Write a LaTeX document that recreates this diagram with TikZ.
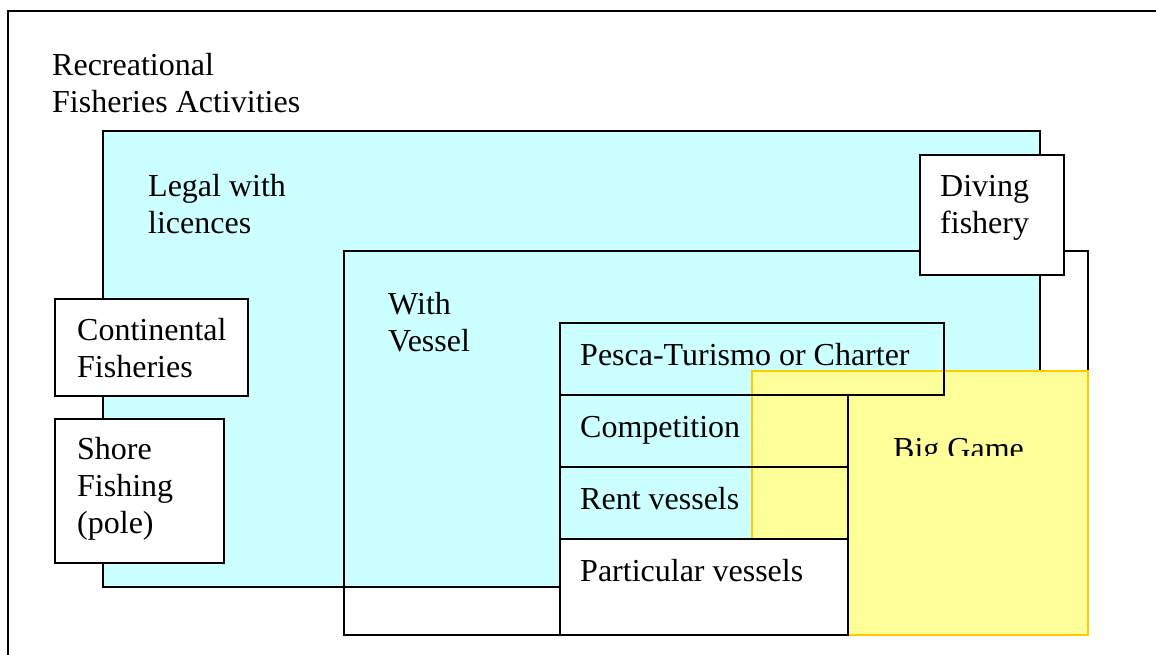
\documentclass[tikz,border=0pt]{standalone}
\usepackage{fontspec}
\setmainfont{Liberation Serif}
\definecolor{lightcyan}{HTML}{CCFFFF}
\definecolor{paleyellow}{HTML}{FFFF99}
\definecolor{gold}{HTML}{FFCC00}

\begin{document}
\begin{tikzpicture}[x=1pt, y=-1pt,
        R/.style 2 args = {rectangle, draw, line width=2pt,% region boxes, placed by their top left corner
                minimum width=#1, minimum height=#2,
                inner sep=0pt, outer sep=0pt, anchor=north west},
        T/.style = {anchor=base west, align=left, inner sep=0pt,% texts, placed by the baseline of their last line
                font=\fontsize{32}{36.8}\selectfont},
    ]
    \useasboundingbox (0,0) rectangle (1156,654);
    \draw[line width=2pt] (8,660) -- (8,11) -- (1160,11);
    \node[R={937pt}{456pt}, fill=lightcyan] (legal) at (103,131) {};
    \node[R={744pt}{384pt}] (vessel) at (344,251) {};
    \node[R={193pt}{97pt}, fill=white] (cont) at (55,299) {};
    \node[R={169pt}{144pt}, fill=white] (shore) at (55,419) {};
    \node[R={144pt}{120pt}, fill=white] (diving) at (920,155) {};
    \node[R={336pt}{264pt}, draw=gold, fill=paleyellow, line width=1.5pt] (big) at (752,371) {};
    \node[R={384pt}{72pt}] (pesca) at (560,323) {};
    \node[R={288pt}{72pt}] (comp) at (560,395) {};
    \node[R={288pt}{72pt}] (rent) at (560,467) {};
    \node[R={288pt}{96pt}, fill=white] (part) at (560,539) {};
    % texts
    \node[T] (recreational) at (52,112) {Recreational\\Fisheries Activities};
    \node[T] (legaltxt) at (148,233) {Legal with\\licences};
    \node[T] (withtxt) at (388,351) {With\\Vessel};
    \node[T] (conttxt) at (77,377) {Continental\\Fisheries};
    \node[T] (shoretxt) at (77,533) {Shore\\Fishing\\(pole)};
    \node[T] (divingtxt) at (940,233) {Diving\\fishery};
    \node[T] (pescatxt) at (580,365) {Pesca-Turismo or Charter};
    \node[T] (comptxt) at (580,437) {Competition};
    \node[T] (renttxt) at (580,509) {Rent vessels};
    \node[T] (parttxt) at (580,581) {Particular vessels};
    \begin{scope}
        \clip (850,372) rectangle (1086,455);% the text is cut off at its foot
        \node[T] (bigtxt) at (893,459) {Big Game};
    \end{scope}
\end{tikzpicture}
\end{document}
